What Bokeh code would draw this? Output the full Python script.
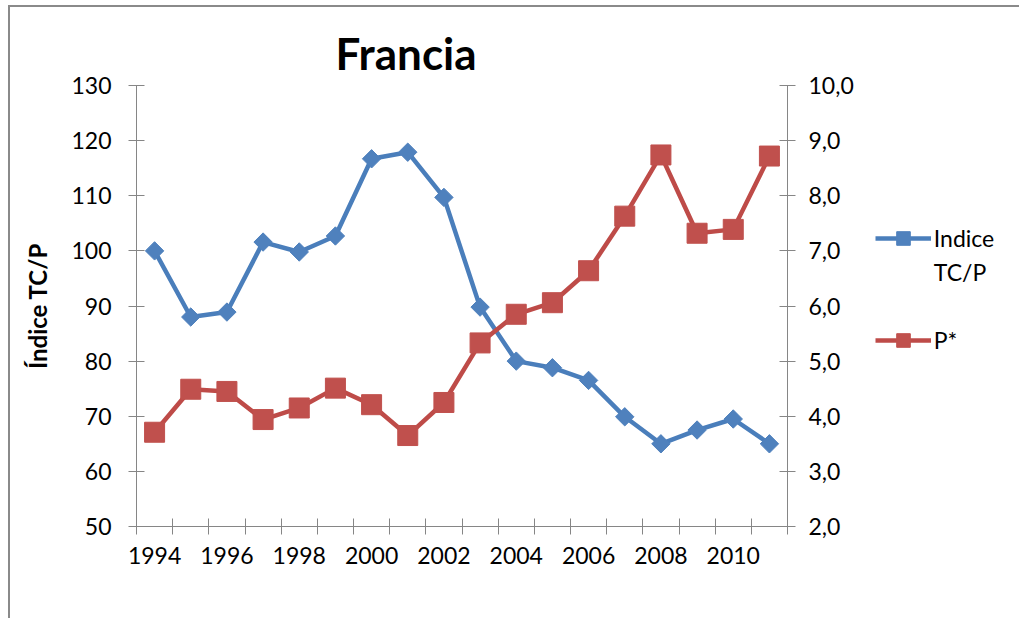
import math
from bokeh.plotting import figure
from bokeh.models import Range1d, LinearAxis, FixedTicker, Legend, LegendItem, Title
from bokeh.embed import file_html
from bokeh.resources import INLINE

years = list(range(1994, 2012))
indice_tcp = [100.0, 88.0, 88.9, 101.6, 99.8, 102.7, 116.7, 117.9, 109.7, 89.8,
              80.0, 78.8, 76.5, 69.9, 65.0, 67.5, 69.5, 65.0]
p_star = [3.71, 4.49, 4.45, 3.94, 4.15, 4.51, 4.21, 3.65, 4.25, 5.33,
          5.85, 6.06, 6.64, 7.63, 8.74, 7.32, 7.39, 8.72]
left_ticks = list(range(50, 131, 10))
right_ticks = list(range(2, 11))
right_labels = {t: f"{t},0" for t in right_ticks}
x_label_years = years[::2]
legend_labels = ["Indice", "TC/P", " ", "P*"]

FONT = "Lato"
AX = "#868686"
BLUE_L, BLUE_M = "#4A7EBB", "#4F81BD"
RED_L, RED_M = "#BE4B48", "#C0504D"

p = figure(frame_width=651, frame_height=441,
           min_border_left=126, min_border_right=230, min_border_top=78, min_border_bottom=92,
           x_range=Range1d(years[0] - 0.5, years[-1] + 0.5),
           y_range=Range1d(50, 130),
           output_backend="svg", toolbar_location=None)
p.styles = {"margin-left": "8px", "margin-top": "5px",
            "border-left": "2px solid #8a8a8a", "border-top": "2px solid #8a8a8a"}
p.outline_line_color = None
p.grid.visible = False
p.extra_y_ranges = {"right": Range1d(2, 10)}

# x axis
xa = p.xaxis[0]
xa.ticker = FixedTicker(ticks=x_label_years,
                        minor_ticks=[y - 0.5 for y in years] + [years[-1] + 0.5])
xa.major_tick_in = 0
xa.major_tick_out = 0
xa.minor_tick_in = 8
xa.minor_tick_out = 8
xa.minor_tick_line_color = AX
xa.axis_line_color = AX
xa.major_label_standoff = 12

# left axis
ya = p.yaxis[0]
ya.ticker = FixedTicker(ticks=left_ticks)
ya.major_tick_in = 8
ya.major_tick_out = 8
ya.minor_tick_line_color = None
ya.axis_line_color = AX
ya.major_tick_line_color = AX
ya.major_label_standoff = 17
ya.axis_label = "Índice TC/P"
ya.axis_label_text_font = FONT
ya.axis_label_text_font_style = "bold"
ya.axis_label_text_font_size = "24px"
ya.axis_label_text_color = "black"
ya.axis_label_standoff = 16

ra = LinearAxis(y_range_name="right", ticker=FixedTicker(ticks=right_ticks),
                major_label_overrides=right_labels)
ra.major_tick_in = 8
ra.major_tick_out = 8
ra.minor_tick_line_color = None
ra.axis_line_color = AX
ra.major_tick_line_color = AX
ra.major_label_standoff = 13
p.add_layout(ra, "right")

for ax in (xa, ya, ra):
    ax.major_label_text_font = FONT
    ax.major_label_text_font_size = "23px"
    ax.major_label_text_color = "black"

p.title = Title(text="Francia", align="left", offset=199, standoff=13,
                text_font=FONT, text_font_size="44px", text_font_style="bold",
                text_color="black")

# series
l1 = p.line(years, indice_tcp, line_color=BLUE_L, line_width=4.5)
m1 = p.scatter(years, indice_tcp, marker="square", size=13, angle=math.pi / 4,
               fill_color=BLUE_M, line_color=BLUE_M)
l2 = p.line(years, p_star, line_color=RED_L, line_width=4.5, y_range_name="right")
m2 = p.scatter(years, p_star, marker="square", size=20,
               fill_color=RED_M, line_color=RED_M, y_range_name="right")
blank = p.line([], [], line_alpha=0)

legend = Legend(items=[LegendItem(label=legend_labels[0], renderers=[l1, m1]),
                       LegendItem(label=legend_labels[1], renderers=[blank]),
                       LegendItem(label=legend_labels[2], renderers=[blank]),
                       LegendItem(label=legend_labels[3], renderers=[l2, m2])],
                location=(-204, 169), orientation="vertical",
                glyph_width=56, glyph_height=34, label_height=34, spacing=0,
                label_standoff=3, padding=0, margin=0,
                border_line_color=None, background_fill_alpha=0,
                label_text_font=FONT, label_text_font_size="23px", label_text_color="black")
p.add_layout(legend, "right")

open("out.html", "w").write(file_html(p, INLINE))
